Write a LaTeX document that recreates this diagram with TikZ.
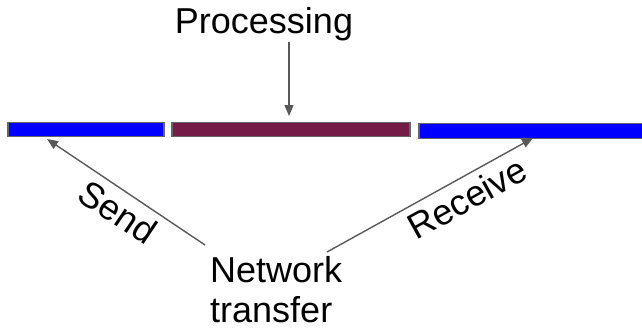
\documentclass[tikz,border=0pt]{standalone}
\usepackage{fontspec}
\setmainfont{Liberation Sans}
\usetikzlibrary{arrows.meta}
\definecolor{arrowgray}{HTML}{595959}
\definecolor{bordergray}{HTML}{666666}
\definecolor{maroon}{HTML}{741B47}
\tikzset{
  bar/.style={draw=bordergray, line width=1.6pt, inner sep=0pt},
  lbl/.style={font=\fontsize{36}{40}\selectfont, inner sep=0pt},
  conn/.style={draw=arrowgray, line width=1.4pt, -{Triangle[length=11pt,width=9pt]}}
}
\begin{document}
\begin{tikzpicture}[x=1pt,y=-1pt]
\useasboundingbox (0,0) rectangle (642,329);
\begin{scope}
\clip (0,0) rectangle (642,329);
\path[bar, fill=blue] (8,122.5) rectangle (164,136.5);
\path[bar, fill=maroon] (172,122.5) rectangle (410,136.5);
\path[bar, fill=blue] (419,123.5) rectangle (660,138.5);
\end{scope}
\node[lbl, anchor=base] (proc) at (264,34) {Processing};
\node[lbl, anchor=base west, align=left] (net) at (210,322) {Network\\transfer};
\node[lbl, rotate=-34] (send) at (118,212) {Send};
\node[lbl, rotate=29] (recv) at (467,198) {Receive};
\coordinate (proctail) at (289,42);
\coordinate (proctip) at (289,116);
\coordinate (sendtail) at (205,245);
\coordinate (sendtip) at (47,139);
\coordinate (recvtail) at (327,252);
\coordinate (recvtip) at (533,138);
\draw[conn] (proctail) -- (proctip);
\draw[conn] (sendtail) -- (sendtip);
\draw[conn] (recvtail) -- (recvtip);
\end{tikzpicture}
\end{document}
